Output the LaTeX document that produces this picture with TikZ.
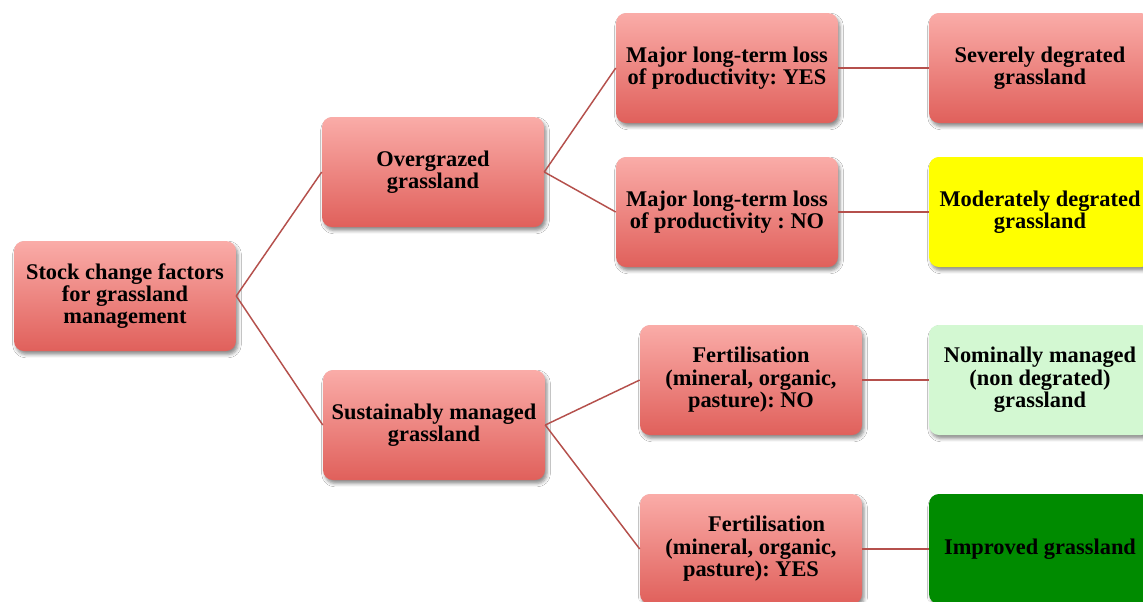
\documentclass[tikz,border=0pt]{standalone}
\usepackage{fontspec}
\setmainfont{Liberation Serif}
\frenchspacing
\usetikzlibrary{shadows.blur}
\definecolor{boxtop}{HTML}{FAACA8}
\definecolor{boxbot}{HTML}{E0605B}
\definecolor{linkred}{HTML}{B5504C}
\definecolor{modyellow}{HTML}{FFFF00}
\definecolor{nomgreen}{HTML}{D3F8D2}
\definecolor{impgreen}{HTML}{008B00}
\tikzset{
  card/.style={rounded corners=7.5pt, minimum width=166.5pt, minimum height=82.5pt,
    align=center, inner sep=2pt,
    font=\fontsize{16.8pt}{16.8pt}\selectfont\bfseries,
    blur shadow={shadow xshift=1.5pt, shadow yshift=-2.6pt, shadow blur radius=2.5pt, shadow opacity=45}},
  redcard/.style={card, top color=boxtop, bottom color=boxbot},
  flatcard/.style={card, fill=#1},
  link/.style={draw=linkred, line width=1.1pt}
}
\begin{document}
\begin{tikzpicture}[x=0.75pt, y=-0.75pt]
\useasboundingbox (0,0) rectangle (1143,601);
\fill[white] (0,0) rectangle (1143,601);

% first and second levels
\node[redcard] (root) at (125,296) {Stock change factors\\for grassland\\management};
\node[redcard] (over) at (433,172) {Overgrazed\\grassland};
\node[redcard] (sust) at (434,425) {Sustainably managed\\grassland};

% questions
\node[redcard] (qyes) at (727,68) {Major long-term loss\\of productivity: YES};
\node[redcard] (qno) at (727,212) {Major long-term loss\\of productivity : NO};
\node[redcard] (fno) at (751,380) {Fertilisation\\(mineral, organic,\\pasture): NO};
\node[redcard] (fyes) at (751,549) {\hspace*{1.4em}Fertilisation\\(mineral, organic,\\pasture): YES};

% outcomes
\node[redcard] (sev) at (1040,68) {Severely degrated\\grassland};
\node[flatcard=modyellow] (mod) at (1040,212) {Moderately degrated\\grassland};
\node[flatcard=nomgreen] (nom) at (1040,380) {Nominally managed\\(non degrated)\\grassland};
\node[flatcard=impgreen] (imp) at (1040,549) {Improved grassland};

% connectors
\path[link] (root.east) -- (over.west);
\path[link] (root.east) -- (sust.west);
\path[link] (over.east) -- (qyes.west);
\path[link] (over.east) -- (qno.west);
\path[link] (sust.east) -- (fno.west);
\path[link] (sust.east) -- (fyes.west);
\path[link] (qyes.east) -- (sev.west);
\path[link] (qno.east) -- (mod.west);
\path[link] (fno.east) -- (nom.west);
\path[link] (fyes.east) -- (imp.west);
\end{tikzpicture}
\end{document}
